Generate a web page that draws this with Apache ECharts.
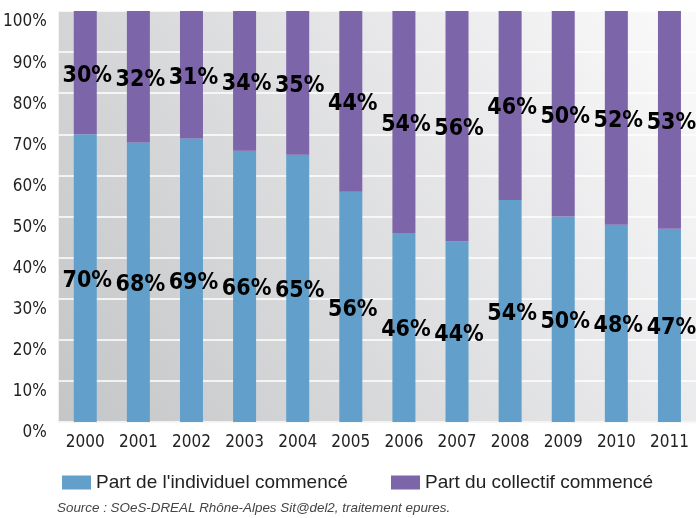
<!DOCTYPE html>
<html>
<head>
<meta charset="utf-8">
<script src="https://cdn.jsdelivr.net/npm/echarts@6/dist/echarts.min.js"></script>
<style>
html,body{margin:0;padding:0;background:#fff;}
#c{width:696px;height:518px;}
</style>
</head>
<body>
<div id="c"></div>
<script>
const years = ['2000','2001','2002','2003','2004','2005','2006','2007','2008','2009','2010','2011'];
const individuel = [70,68,69,66,65,56,46,44,54,50,48,47];
const collectif = [30,32,31,34,35,44,54,56,46,50,52,53];
const yTicks = [0,10,20,30,40,50,60,70,80,90,100];
const seriesNames = ["Part de l'individuel commencé", "Part du collectif commencé"];
const sourceText = "Source : SOeS-DREAL Rhône-Alpes Sit@del2, traitement epures.";

const narrow = "'DejaVu Sans Condensed','DejaVu Sans',sans-serif";
const chart = echarts.init(document.getElementById('c'), null, {renderer:'canvas'});
const labelStyle = {
  show: true, position: 'inside',
  formatter: p => p.value + '%',
  fontFamily: narrow, fontWeight: 'bold condensed', fontSize: 23, color: '#000', offset:[2,3]
};
chart.setOption({
  animation: false,
  grid: {
    left: 55, top: 11, width: 648, height: 411, show: true, borderWidth: 0,
    backgroundColor: new echarts.graphic.LinearGradient(0, 1, 1, 0, [
      {offset: 0, color: '#c4c5c7'}, {offset: 1, color: '#fbfbfc'}
    ])
  },
  legend: [
    {left: 57, top: 468, itemWidth: 29, itemHeight: 14, itemGap: 0, icon: 'rect', data: [seriesNames[0]],
     textStyle: {fontFamily: "'Liberation Sans',sans-serif", fontSize: 19, color: '#222'}},
    {left: 386, top: 468, itemWidth: 29, itemHeight: 14, itemGap: 0, icon: 'rect', data: [seriesNames[1]],
     textStyle: {fontFamily: "'Liberation Sans',sans-serif", fontSize: 19, color: '#222'}}
  ],
  xAxis: {
    type: 'category', data: years,
    axisLine: {show: true, lineStyle: {color: '#f2f2f2', width: 1.5}},
    axisTick: {show: false},
    axisLabel: {interval: 0, fontFamily: narrow, fontWeight: 'normal condensed', fontSize: 17, color: '#222', margin: 12}
  },
  yAxis: {
    type: 'value', min: 0, max: 100, interval: 10,
    axisLine: {show: false}, axisTick: {show: false},
    splitLine: {lineStyle: {color: '#ffffff', width: 1.5}},
    axisLabel: {fontFamily: narrow, fontWeight: 'normal condensed', fontSize: 17, color: '#222', margin: 12,
      verticalAlign: 'top', lineHeight: 22,
      formatter: v => yTicks.includes(v) ? v + '%' : ''}
  },
  series: [
    {name: seriesNames[0], type: 'bar', stack: 's', data: individuel, barWidth: 23,
     itemStyle: {color: '#62a0cb'}, label: labelStyle},
    {name: seriesNames[1], type: 'bar', stack: 's', data: collectif, barWidth: 23,
     itemStyle: {color: '#7c65a9'}, label: labelStyle}
  ],
  graphic: [
    {type: 'text', left: 57, top: 502, style: {text: sourceText,
      font: "italic 13.4px 'Liberation Sans',sans-serif", fill: '#444'}}
  ]
});
</script>
</body>
</html>
